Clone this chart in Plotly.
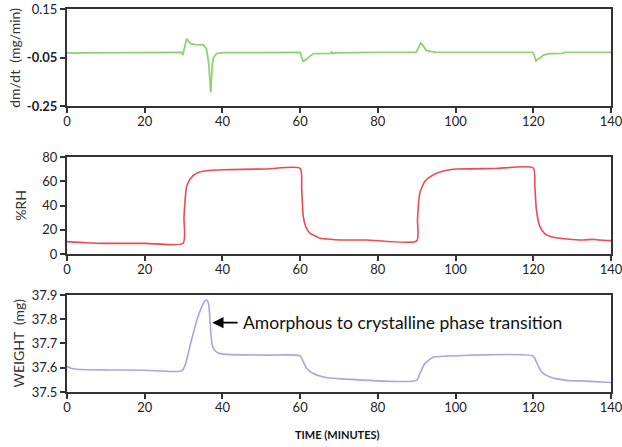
import plotly.graph_objects as go
from plotly.subplots import make_subplots

# Rate of mass change (mg/min)
dmdt_time = [0, 1.5, 4, 10, 20, 29.5, 29.8, 30.3, 30.8, 31.2, 31.7, 33.0, 35.1, 35.9, 36.5, 37.0,
             37.4, 37.7, 38.5, 40.2, 50, 60.0, 60.3, 60.8, 61.5, 62.5, 63.4, 67.8, 68.1, 68.4, 69,
             80, 89.8, 90.3, 91.0, 91.5, 92.4, 93.5, 95.1, 110, 119.9, 120.3, 120.7, 121.2, 121.7,
             122.7, 124.3, 127.5, 128, 140]
dmdt_vals = [-0.030, -0.032, -0.031, -0.030, -0.029, -0.029, -0.040, 0.000, 0.027, 0.020, 0.008,
             0.003, 0.002, -0.015, -0.077, -0.194, -0.077, -0.050, -0.034, -0.030, -0.029, -0.029,
             -0.045, -0.066, -0.058, -0.045, -0.034, -0.033, -0.027, -0.034, -0.031, -0.029,
             -0.029, -0.015, 0.009, 0.002, -0.020, -0.025, -0.029, -0.029, -0.029, -0.045, -0.064,
             -0.056, -0.053, -0.039, -0.034, -0.033, -0.029, -0.029]

# Relative humidity (%RH)
rh_time = [0, 5, 10, 20, 29.9, 30.1, 30.4, 30.8, 31.7, 33.4, 35.9, 40.2, 51.4, 60.0, 60.4, 60.8,
           61.5, 62.5, 63.0, 64.3, 65.1, 66.8, 70.3, 77.1, 90.0, 90.2, 90.4, 90.8, 92.1, 94.3, 97.7,
           100.3, 110, 120.0, 120.4, 120.8, 121.7, 123, 125.2, 128.6, 132.9, 135.4, 137, 140]
rh_vals = [10.2, 9.3, 8.8, 8.8, 8.9, 30.0, 44.7, 55.7, 61.8, 66.8, 68.7, 69.5, 70.1, 70.6, 53.0,
           30.9, 22.1, 17.1, 16.3, 14.3, 13.0, 12.4, 11.6, 11.6, 10.8, 28.0, 39.0, 50.2, 59.9, 65.4,
           69.0, 70.1, 70.5, 70.9, 55.7, 36.4, 22.6, 16.6, 13.8, 12.4, 11.6, 12.1, 11.5, 11.0]

# Sample weight (mg)
wt_time = [0, 1, 2.5, 10, 20, 29.5, 30.4, 31.7, 33.4, 34.7, 35.5, 35.9, 36.4, 36.7, 37.0, 37.3,
           37.7, 38.9, 41.1, 51.4, 60, 60.8, 61.7, 63.4, 66, 72.8, 90, 90.8, 92.1, 94.3, 97.7, 120,
           120.8, 122.1, 124.3, 128.6, 133.7, 137.5, 140]
wt_vals = [37.606, 37.598, 37.594, 37.591, 37.590, 37.587, 37.610, 37.693, 37.795, 37.852, 37.875,
           37.879, 37.866, 37.820, 37.745, 37.700, 37.679, 37.661, 37.655, 37.652, 37.649, 37.625,
           37.597, 37.576, 37.562, 37.552, 37.548, 37.576, 37.617, 37.644, 37.648, 37.648, 37.624,
           37.583, 37.562, 37.548, 37.545, 37.541, 37.539]

x_ticks = [0, 20, 40, 60, 80, 100, 120, 140]
dmdt_ticks = [-0.25, -0.05, 0.15]
dmdt_tick_text = ["<b>-0.25</b>", "<b>-0.05</b>", "0.15"]

FONT = "Lato"
AXIS = "#333333"

fig = make_subplots(rows=3, cols=1)
fig.add_trace(go.Scatter(x=dmdt_time, y=dmdt_vals, mode="lines",
                         line=dict(color="#8fd173", width=1.8), showlegend=False), row=1, col=1)
fig.add_trace(go.Scatter(x=rh_time, y=rh_vals, mode="lines", line_shape="spline",
                         line=dict(color="#ec4b50", width=1.6, smoothing=0.6),
                         showlegend=False), row=2, col=1)
fig.add_trace(go.Scatter(x=wt_time, y=wt_vals, mode="lines", line_shape="spline",
                         line=dict(color="#aaa6dd", width=1.6, smoothing=0.6),
                         showlegend=False), row=3, col=1)

common_axis = dict(showline=True, mirror=True, linecolor=AXIS, linewidth=2,
                   ticks="outside", ticklen=5, tickwidth=1.5, tickcolor=AXIS,
                   showgrid=False, zeroline=False, automargin=False,
                   ticklabeloverflow="allow",
                   tickfont=dict(family=FONT, size=13, color="#222222"))

domains = [[0.7467, 1.0], [0.3603, 0.6136], [0.0, 0.2533]]
for i in range(3):
    xa = "xaxis" if i == 0 else f"xaxis{i + 1}"
    ya = "yaxis" if i == 0 else f"yaxis{i + 1}"
    fig.layout[xa].update(range=[0, 140], tickvals=x_ticks, domain=[0, 1],
                          ticklabelstandoff=-3, **common_axis)
    fig.layout[ya].update(domain=domains[i], **common_axis)

fig.layout.yaxis.update(range=[-0.25, 0.15], tickvals=dmdt_ticks, ticktext=dmdt_tick_text)
fig.layout.yaxis2.update(range=[0, 80], tickvals=[0, 20, 40, 60, 80])
fig.layout.yaxis3.update(range=[37.5, 37.9], tickvals=[37.5, 37.6, 37.7, 37.8, 37.9],
                         tickformat=".1f")

title_font = dict(family=FONT, size=14, color="#333333")
fig.add_annotation(text="dm/dt  (mg/min)", xref="paper", yref="paper", x=-0.097,
                   y=sum(domains[0]) / 2, textangle=-90, showarrow=False, font=title_font,
                   xanchor="center", yanchor="middle")
fig.add_annotation(text="%RH", xref="paper", yref="paper", x=-0.086,
                   y=sum(domains[1]) / 2, textangle=-90, showarrow=False, font=title_font,
                   xanchor="center", yanchor="middle")
fig.add_annotation(text="WEIGHT  (mg)", xref="paper", yref="paper", x=-0.09,
                   y=sum(domains[2]) / 2, textangle=-90, showarrow=False, font=title_font,
                   xanchor="center", yanchor="middle")
fig.add_annotation(text="<b>TIME (MINUTES)</b>", xref="paper", yref="paper", x=0.498,
                   y=-0.11, showarrow=False, xanchor="center", yanchor="middle",
                   font=dict(family=FONT, size=11, color="#111111"))

# Arrow marking the weight peak
fig.add_annotation(x=37.4, y=37.786, ax=44.3, ay=37.786, xref="x3", yref="y3",
                   axref="x3", ayref="y3", text="", showarrow=True, arrowhead=2,
                   arrowsize=1.4, arrowwidth=1.6, arrowcolor="#000000")
fig.add_annotation(x=44.7, y=37.786, xref="x3", yref="y3", xanchor="left", yanchor="middle",
                   text="Amorphous to crystalline phase transition", showarrow=False,
                   font=dict(family=FONT, size=17.5, color="#111111"))

fig.update_layout(width=622, height=447, margin=dict(l=67, r=11, t=9, b=55),
                  plot_bgcolor="white", paper_bgcolor="white")

fig.write_html("out.html")
